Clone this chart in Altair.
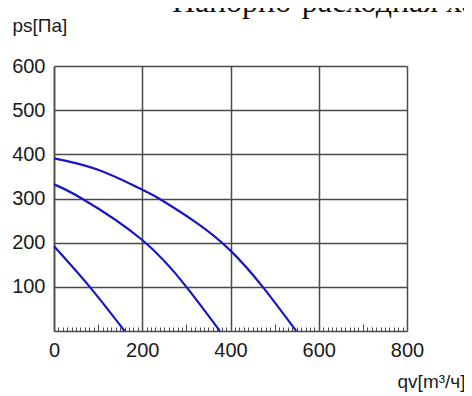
import altair as alt
import pandas as pd

# --- data ---
q_a = [0, 81, 160]
p_a = [192, 100, 0]
q_b = [0, 63, 200, 300, 376]
p_b = [332, 300, 206, 100, 0]
q_c = [0, 100, 200, 236, 320, 400, 473, 549]
p_c = [391, 365, 320, 301, 247, 182, 100, 0]

x_ticks = [0, 200, 400, 600, 800]
y_ticks = [100, 200, 300, 400, 500, 600]
x_minor = list(range(0, 801, 10))

rows = []
for name, qs, ps in (("A", q_a, p_a), ("B", q_b, p_b), ("C", q_c, p_c)):
    for q, p in zip(qs, ps):
        rows.append({"curve": name, "q": q, "p": p})
df = pd.DataFrame(rows)

GRID = "#4a4a4a"
TXT = "#1a1a1a"
FONT = "Liberation Sans"
W, H = 353, 265

xscale = alt.Scale(domain=[0, 800], nice=False, zero=False)
yscale = alt.Scale(domain=[0, 600], nice=False, zero=False)

lines = alt.Chart(df).mark_line(color="#1616c8", strokeWidth=2.2, interpolate="natural").encode(
    x=alt.X("q:Q", scale=xscale, axis=alt.Axis(
        orient="bottom", values=x_ticks, format="d", grid=True, gridColor=GRID, gridWidth=1.5,
        domainColor=GRID, domainWidth=1.5, ticks=False, tickSize=0, labelPadding=9,
        labelFont=FONT, labelFontSize=20, labelColor=TXT, labelFlush=False, labelOverlap=False,
        title="qv[m³/ч]", titleX=411, titleY=56, titleAlign="right", titleBaseline="alphabetic",
        titleFont=FONT, titleFontSize=19, titleFontWeight="normal", titleColor=TXT)),
    y=alt.Y("p:Q", scale=yscale, axis=alt.Axis(
        orient="left", values=y_ticks, format="d", grid=True, gridColor=GRID, gridWidth=1.5,
        domainColor=GRID, domainWidth=1.5, ticks=False, tickSize=0, labelPadding=9,
        labelFont=FONT, labelFontSize=20, labelColor=TXT, labelFlush=False, labelOverlap=False,
        title="ps[Па]", titleAngle=0, titleX=-42, titleY=-35, titleAlign="left",
        titleBaseline="alphabetic", titleFont=FONT, titleFontSize=19, titleFontWeight="normal",
        titleColor=TXT)),
    detail="curve:N",
)

minor = alt.Chart(df).mark_line(opacity=0).encode(
    x=alt.X("q:Q", scale=xscale, axis=alt.Axis(
        orient="top", offset=-H, values=x_minor, labels=False, grid=False, domain=False,
        ticks=True, tickColor=GRID, tickWidth=1,
        tickSize={"condition": {"test": "datum.value % 100 === 0", "value": 7}, "value": 4},
        title=None)),
    y=alt.Y("p:Q", scale=yscale, axis=None),
    detail="curve:N",
)

chart = alt.layer(lines, minor).resolve_axis(x="independent", y="independent").properties(
    width=W, height=H,
    autosize=alt.AutoSizeParams(type="none"),
    padding={"left": 46, "top": 58, "right": 57, "bottom": 61},
    title=alt.TitleParams(
        text="Напорно-расходная характеристика", anchor="start", frame="group",
        font="Liberation Serif", fontSize=32, fontWeight="normal", color="#111111",
        baseline="alphabetic", offset=0, dx=118, dy=28),
).configure_view(stroke=None)

chart.save("out.html", embed_options={"renderer": "svg", "actions": False})
